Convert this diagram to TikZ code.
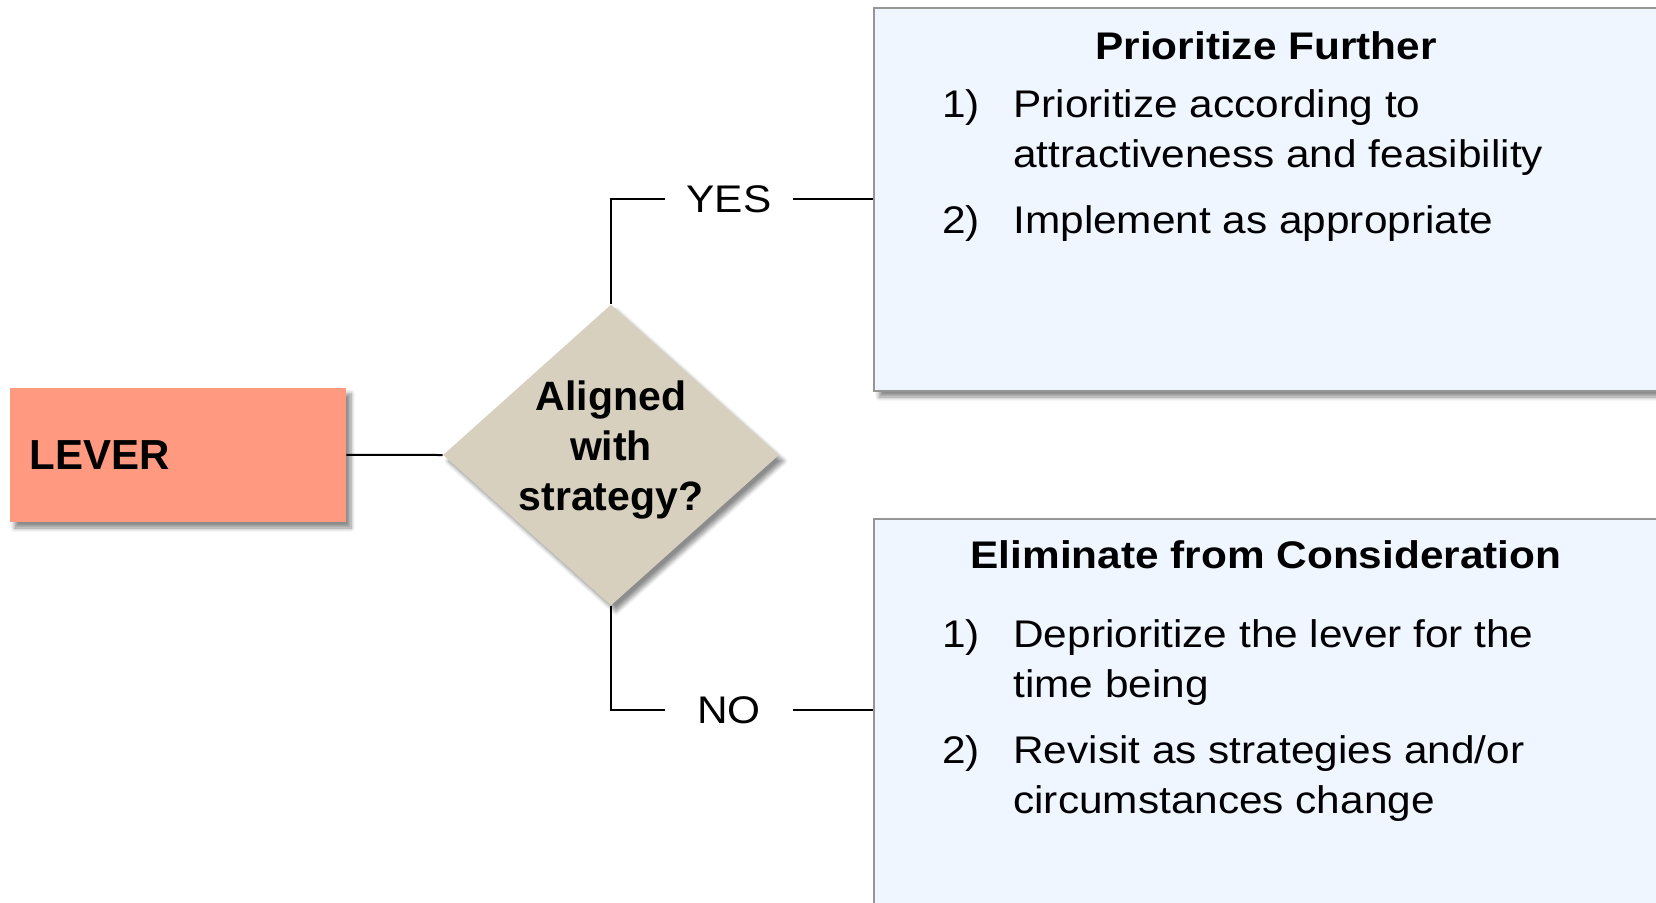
\documentclass[tikz,border=0pt]{standalone}
\usepackage{fontspec}
\setmainfont{Liberation Sans}
\newfontfamily\boxfont[FakeStretch=1.1]{Liberation Sans}
\usetikzlibrary{shapes.geometric,shadows.blur}

\definecolor{leverfill}{RGB}{255,154,128}
\definecolor{decisionfill}{RGB}{215,208,190}
\definecolor{outcomefill}{RGB}{239,246,255}
\definecolor{outcomeborder}{RGB}{150,150,150}

\tikzset{
  softshadow/.style={blur shadow={shadow xshift=2.5pt, shadow yshift=-3pt,
      shadow blur radius=2pt, shadow blur steps=6, shadow opacity=45}},
  leverbox/.style={rectangle, fill=leverfill, draw=none, softshadow,
      minimum width=168.25pt, minimum height=67.25pt, inner xsep=10pt,
      text width=148.25pt, align=left,
      font=\bfseries\fontsize{21pt}{25pt}\selectfont},
  decision/.style={diamond, fill=decisionfill, draw=none, softshadow,
      minimum width=168pt, minimum height=150.5pt, inner sep=0pt},
  decisiontext/.style={anchor=base, inner sep=0pt,
      font=\bfseries\fontsize{20.5pt}{25pt}\selectfont},
  outcome/.style={rectangle, fill=outcomefill, draw=outcomeborder,
      line width=1pt, softshadow, minimum width=413pt, inner sep=0pt},
  outcometitle/.style={anchor=base, inner sep=0pt,
      font=\boxfont\bfseries\fontsize{19.25pt}{25pt}\selectfont},
  itemnum/.style={anchor=base west, inner sep=0pt,
      font=\boxfont\fontsize{19.25pt}{25pt}\selectfont},
  itemtext/.style={anchor=base west, inner sep=0pt,
      font=\boxfont\fontsize{19.25pt}{25pt}\selectfont},
  branchlabel/.style={inner xsep=0pt, inner ysep=0pt, minimum width=64pt,
      text height=13.9pt, text depth=0pt,
      font=\boxfont\fontsize{19.25pt}{25pt}\selectfont},
  connector/.style={draw=black, line width=1pt},
}

\begin{document}
\begin{tikzpicture}[x=0.5pt, y=-0.5pt]
\useasboundingbox (0,0) rectangle (1656,902);
\clip (0,0) rectangle (1656,902);

% outcome panels (they run past the right and bottom edges)
\node[outcome, minimum height=191.75pt] (top) at (1287,199.25) {};
\node[outcome, minimum height=210.75pt] (bottom) at (1287,729.25) {};

% starting lever and the decision
\node[leverbox] (lever) at (177.75,454.75) {LEVER};
\node[decision] (dia) at (611,455) {};
\node[decisiontext] (diatext) at (611,410)
  {\begin{tabular}[t]{@{}c@{}}Aligned\\ with\\ strategy?\end{tabular}};

% branch labels
\node[branchlabel] (yes) at (729,199) {YES};
\node[branchlabel] (no) at (729,710) {NO};

% connectors
\draw[connector] (lever.east) -- (dia.west);
\draw[connector] (dia.north) |- (yes.west);
\draw[connector] (yes.east) -- (yes.east -| top.west);
\draw[connector] (dia.south) |- (no.west);
\draw[connector] (no.east) -- (no.east -| bottom.west);

% upper panel text
\node[outcometitle] (toptitle) at (1266,59) {Prioritize Further};
\node[itemnum] (topn1) at (942,117) {1)};
\node[itemtext] (topt1) at (1013,117)
  {\begin{tabular}[t]{@{}l@{}}Prioritize according to\\ attractiveness and feasibility\end{tabular}};
\node[itemnum] (topn2) at (942,233) {2)};
\node[itemtext] (topt2) at (1013,233) {Implement as appropriate};

% lower panel text
\node[outcometitle] (bottomtitle) at (1266,568) {Eliminate from Consideration};
\node[itemnum] (botn1) at (942,647) {1)};
\node[itemtext] (bott1) at (1013,647)
  {\begin{tabular}[t]{@{}l@{}}Deprioritize the lever for the\\ time being\end{tabular}};
\node[itemnum] (botn2) at (942,763) {2)};
\node[itemtext] (bott2) at (1013,763)
  {\begin{tabular}[t]{@{}l@{}}Revisit as strategies and/or\\ circumstances change\end{tabular}};
\end{tikzpicture}
\end{document}
